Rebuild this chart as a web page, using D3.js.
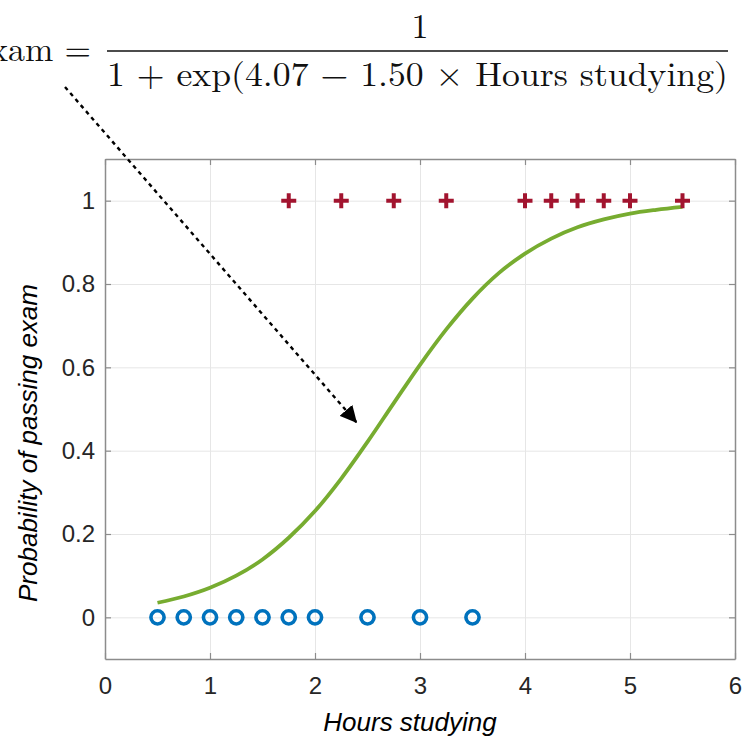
<!DOCTYPE html>
<html>
<head>
<meta charset="utf-8">
<script src="https://cdn.jsdelivr.net/npm/d3@7.9.0/dist/d3.min.js"></script>
<style>
	html, body { margin: 0; padding: 0; background: #fff; }
	svg { display: block; }
</style>
</head>
<body>
<svg id="chart" width="750" height="737"></svg>
<script>
// Observations: hours studied for students who failed (0) and passed (1)
const failHours = [0.5, 0.75, 1.0, 1.25, 1.5, 1.75, 2.0, 2.5, 3.0, 3.5];
const passHours = [1.75, 2.25, 2.75, 3.25, 4.0, 4.25, 4.5, 4.75, 5.0, 5.5];

// Fitted curve
const curveHours = [0.5, 0.75, 1.0, 1.25, 1.5, 1.75, 2.0, 2.25, 2.5, 2.75, 3.0,
	3.25, 3.5, 3.75, 4.0, 4.25, 4.5, 4.75, 5.0, 5.25, 5.5];
const curveProb = [0.035, 0.050, 0.071, 0.100, 0.139, 0.191, 0.255, 0.333, 0.421, 0.514, 0.606,
	0.691, 0.765, 0.826, 0.873, 0.909, 0.936, 0.955, 0.969, 0.978, 0.985];

const xTicks = [0, 1, 2, 3, 4, 5, 6];
const yTicks = [0, 0.2, 0.4, 0.6, 0.8, 1];

const margin = { left: 105, right: 15, top: 159, bottom: 78 };
const width = 750 - margin.left - margin.right;
const height = 737 - margin.top - margin.bottom;

const svg = d3.select('#chart');

const x = d3.scaleLinear().domain([0, 6]).range([0, width]);
const y = d3.scaleLinear().domain([-0.1, 1.1]).range([height, 0]);

const g = svg.append('g').attr('transform', `translate(${margin.left},${margin.top})`);

// grid
g.append('g')
	.attr('transform', `translate(0,${height})`)
	.call(d3.axisBottom(x).tickValues(xTicks).tickSize(-height).tickFormat(''))
	.call((s) => s.select('.domain').remove())
	.call((s) => s.selectAll('line').attr('stroke', '#e6e6e6').attr('stroke-width', 1));
g.append('g')
	.call(d3.axisLeft(y).tickValues(yTicks).tickSize(-width).tickFormat(''))
	.call((s) => s.select('.domain').remove())
	.call((s) => s.selectAll('line').attr('stroke', '#e6e6e6').attr('stroke-width', 1));

const fmt = (d) => String(+d.toFixed(1));
const styleAxis = (s) => {
	s.select('.domain').attr('stroke', '#8c8c8c').attr('stroke-width', 1.5);
	s.selectAll('.tick line').attr('stroke', '#8c8c8c').attr('stroke-width', 1.2);
	s.selectAll('.tick text')
		.attr('fill', '#262626')
		.attr('font-family', 'Liberation Sans, Arial, sans-serif')
		.attr('font-size', 24);
};

// box axes with inward ticks
g.append('g')
	.attr('transform', `translate(0,${height})`)
	.call(d3.axisBottom(x).tickValues(xTicks).tickSize(-6).tickSizeOuter(0).tickPadding(18).tickFormat(fmt))
	.call(styleAxis);
g.append('g')
	.call(d3.axisTop(x).tickValues(xTicks).tickSize(-6).tickSizeOuter(0).tickFormat(''))
	.call(styleAxis);
g.append('g')
	.call(d3.axisLeft(y).tickValues(yTicks).tickSize(-6).tickSizeOuter(0).tickPadding(10).tickFormat(fmt))
	.call(styleAxis);
g.append('g')
	.attr('transform', `translate(${width},0)`)
	.call(d3.axisRight(y).tickValues(yTicks).tickSize(-6).tickSizeOuter(0).tickFormat(''))
	.call(styleAxis);

// fitted curve
const line = d3.line()
	.x((d, i) => x(curveHours[i]))
	.y((d) => y(d))
	.curve(d3.curveMonotoneX);
g.append('path')
	.attr('d', line(curveProb))
	.attr('fill', 'none')
	.attr('stroke', '#77AC30')
	.attr('stroke-width', 3.8);

// fail markers
g.selectAll('circle.fail')
	.data(failHours)
	.join('circle')
	.attr('class', 'fail')
	.attr('cx', (d) => x(d))
	.attr('cy', y(0))
	.attr('r', 6.6)
	.attr('fill', 'none')
	.attr('stroke', '#0072BD')
	.attr('stroke-width', 3.6);

// pass markers
const plus = 7.5;
g.selectAll('path.pass')
	.data(passHours)
	.join('path')
	.attr('class', 'pass')
	.attr('d', (d) => `M${x(d) - plus},${y(1)}H${x(d) + plus}M${x(d)},${y(1) - plus}V${y(1) + plus}`)
	.attr('stroke', '#A2142F')
	.attr('stroke-width', 4);

// axis labels
svg.append('text')
	.attr('x', 410)
	.attr('y', 731)
	.attr('text-anchor', 'middle')
	.attr('font-family', 'Liberation Sans, Arial, sans-serif')
	.attr('font-style', 'italic')
	.attr('font-size', 26)
	.attr('fill', '#000')
	.text('Hours studying');
svg.append('text')
	.attr('transform', 'translate(37,443) rotate(-90)')
	.attr('text-anchor', 'middle')
	.attr('font-family', 'Liberation Sans, Arial, sans-serif')
	.attr('font-style', 'italic')
	.attr('font-size', 26)
	.attr('fill', '#000')
	.text('Probability of passing exam');

// formula
const serif = 'Latin Modern Roman, Liberation Serif, DejaVu Serif, serif';
svg.append('text')
	.attr('x', 91)
	.attr('y', 61)
	.attr('text-anchor', 'end')
	.attr('font-family', serif)
	.attr('font-size', 34)
	.attr('fill', '#111')
	.text('exam =');
svg.append('text')
	.attr('x', 420)
	.attr('y', 38)
	.attr('text-anchor', 'middle')
	.attr('font-family', serif)
	.attr('font-size', 34)
	.attr('fill', '#111')
	.text('1');
svg.append('line')
	.attr('x1', 107).attr('x2', 728)
	.attr('y1', 51).attr('y2', 51)
	.attr('stroke', '#111')
	.attr('stroke-width', 1.6);
svg.append('text')
	.attr('x', 107)
	.attr('y', 86)
	.attr('font-family', serif)
	.attr('font-size', 34)
	.attr('fill', '#111')
	.attr('textLength', 621)
	.attr('lengthAdjust', 'spacingAndGlyphs')
	.text('1 + exp(4.07 − 1.50 × Hours studying)');

// dotted arrow
const defs = svg.append('defs');
defs.append('marker')
	.attr('id', 'head')
	.attr('viewBox', '0 0 10 10')
	.attr('refX', 10).attr('refY', 5)
	.attr('markerWidth', 7).attr('markerHeight', 7)
	.attr('markerUnits', 'strokeWidth')
	.attr('orient', 'auto')
	.append('path')
	.attr('d', 'M0,0L10,5L0,10Z')
	.attr('fill', '#000');
svg.append('line')
	.attr('x1', 65).attr('y1', 87)
	.attr('x2', 357).attr('y2', 423)
	.attr('stroke', '#000')
	.attr('stroke-width', 2.4)
	.attr('stroke-dasharray', '4 4')
	.attr('marker-end', 'url(#head)');
</script>
</body>
</html>
